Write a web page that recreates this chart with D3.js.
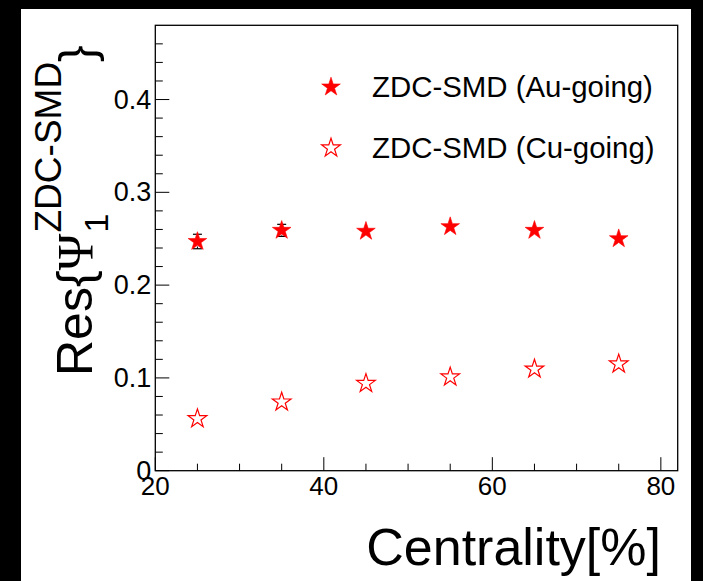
<!DOCTYPE html>
<html><head><meta charset="utf-8">
<script src="https://cdn.jsdelivr.net/npm/d3@7"></script>
<style>
html,body{margin:0;padding:0;background:#000;}
svg{display:block;}
text{font-family:"Liberation Sans", Arial, Helvetica, sans-serif;fill:#000;}
</style></head><body>
<svg id="chart" width="703" height="581"></svg>
<script>
// Event-plane resolution of the first-order ZDC-SMD plane vs centrality
const centrality = [25, 35, 45, 55, 65, 75];
const resAu = [0.247, 0.259, 0.258, 0.263, 0.259, 0.250];
const errAu = [0.0078, 0.0065, 0.004, 0.004, 0.004, 0.004];
const resCu = [0.056, 0.074, 0.094, 0.101, 0.1095, 0.115];
const errCu = [0.003, 0.003, 0.003, 0.003, 0.003, 0.003];
const xMajorTicks = [20, 40, 60, 80];
const xMinorTicks = [25, 30, 35, 45, 50, 55, 65, 70, 75];
const yMajorTicks = [0, 0.1, 0.2, 0.3, 0.4];
const yMinorTicks = [0.02, 0.04, 0.06, 0.08, 0.12, 0.14, 0.16, 0.18, 0.22, 0.24, 0.26, 0.28,
                     0.32, 0.34, 0.36, 0.38, 0.42, 0.44, 0.46];
const legendLabels = ["ZDC-SMD (Au-going)", "ZDC-SMD (Cu-going)"];
const xTitle = "Centrality[%]";

const svg = d3.select("#chart");
const red = "#ff0000";

// canvas (white pad)
svg.append("rect").attr("x", 21).attr("y", 9).attr("width", 670).attr("height", 572).attr("fill", "#fff");

const plot = {left: 155.3, right: 677.7, top: 25.3, bottom: 470.7};
const x = d3.scaleLinear().domain([20, 82]).range([plot.left, plot.right]);
const y = d3.scaleLinear().domain([0, 0.48]).range([plot.bottom, plot.top]);

// ticks (pointing inward)
const gx = svg.append("g");
gx.selectAll("line.maj").data(xMajorTicks).join("line")
  .attr("x1", d => x(d)).attr("x2", d => x(d))
  .attr("y1", plot.bottom).attr("y2", plot.bottom - 13.5)
  .attr("stroke", "#000").attr("stroke-width", 1);
gx.selectAll("line.min").data(xMinorTicks).join("line")
  .attr("x1", d => x(d)).attr("x2", d => x(d))
  .attr("y1", plot.bottom).attr("y2", plot.bottom - 7)
  .attr("stroke", "#000").attr("stroke-width", 1);
gx.selectAll("text").data(xMajorTicks).join("text")
  .attr("x", d => x(d)).attr("y", plot.bottom + 24)
  .attr("text-anchor", "middle").attr("font-size", 26)
  .text(d => d3.format("d")(d));

const gy = svg.append("g");
gy.selectAll("line.maj").data(yMajorTicks).join("line")
  .attr("y1", d => y(d)).attr("y2", d => y(d))
  .attr("x1", plot.left).attr("x2", plot.left + 14)
  .attr("stroke", "#000").attr("stroke-width", 1);
gy.selectAll("line.min").data(yMinorTicks).join("line")
  .attr("y1", d => y(d)).attr("y2", d => y(d))
  .attr("x1", plot.left).attr("x2", plot.left + 7.5)
  .attr("stroke", "#000").attr("stroke-width", 1);
gy.selectAll("text").data(yMajorTicks).join("text")
  .attr("x", plot.left - 4).attr("y", d => y(d) + 9)
  .attr("text-anchor", "end").attr("font-size", 27)
  .text(d => d === 0 ? "0" : d3.format(".1f")(d));

// frame
svg.append("rect").attr("x", plot.left).attr("y", plot.top)
  .attr("width", plot.right - plot.left).attr("height", plot.bottom - plot.top)
  .attr("fill", "none").attr("stroke", "#000").attr("stroke-width", 1.3);

// markers
const starR = 9.8;
const starSize = starR * starR / 0.8908130915292852;
const star = d3.symbol().type(d3.symbolStar).size(starSize);
const gap = 5, capW = 4.5;

function drawSeries(vals, errs, filled) {
  const pts = centrality.map((c, i) => ({c, v: vals[i], e: errs[i]}));
  const g = svg.append("g");
  pts.forEach(p => {
    const cx = x(p.c), cy = y(p.v);
    const dy = y(p.v) - y(p.v + p.e);
    if (dy > gap) {
      [[cy - gap, y(p.v + p.e)], [cy + gap, y(p.v - p.e)]].forEach(([a, b]) => {
        g.append("line").attr("x1", cx).attr("x2", cx).attr("y1", a).attr("y2", b)
          .attr("stroke", "#000").attr("stroke-width", 1);
        g.append("line").attr("x1", cx - capW).attr("x2", cx + capW).attr("y1", b).attr("y2", b)
          .attr("stroke", "#000").attr("stroke-width", 1.2);
      });
    }
  });
  g.selectAll("path").data(pts).join("path")
    .attr("d", star)
    .attr("transform", d => `translate(${x(d.c)},${y(d.v)})`)
    .attr("fill", filled ? red : "none")
    .attr("stroke", red).attr("stroke-width", filled ? 0.6 : 1.2);
}
drawSeries(resAu, errAu, true);
drawSeries(resCu, errCu, false);

// legend
const leg = svg.append("g");
legendLabels.forEach((lab, i) => {
  const ly = 87 + i * 61;
  leg.append("path").attr("d", star).attr("transform", `translate(331,${ly})`)
    .attr("fill", i === 0 ? red : "none").attr("stroke", red).attr("stroke-width", i === 0 ? 0.6 : 1.2);
  leg.append("text").attr("x", 372).attr("y", ly + 10).attr("font-size", 29.4).text(lab);
});

// x-axis title
svg.append("text").attr("x", 661).attr("y", 565).attr("text-anchor", "end")
  .attr("font-size", 52).text(xTitle);

// y-axis title: Res{Psi_1^{ZDC-SMD}}
const yt = svg.append("g").attr("transform", "translate(92,376) rotate(-90)");
const big = 50, sup = 37, sub = 34;
const t1 = yt.append("text").attr("x", 0).attr("y", 0).attr("font-size", big).text("Res{");
let cx = t1.node().getComputedTextLength();
const tPsi = yt.append("text").attr("x", cx).attr("y", 0).attr("font-size", big)
  .style("font-family", "'Liberation Serif', 'DejaVu Serif', serif").text("\u03A8");
cx += tPsi.node().getComputedTextLength() + 1;
const tSub = yt.append("text").attr("x", cx).attr("y", 16).attr("font-size", sub).text("1");
const tSup = yt.append("text").attr("x", cx).attr("y", -31).attr("font-size", sup).text("ZDC-SMD");
cx += Math.max(tSub.node().getComputedTextLength(), tSup.node().getComputedTextLength());
yt.append("text").attr("x", cx).attr("y", 2).attr("font-size", big).text("}");
</script>
</body></html>
